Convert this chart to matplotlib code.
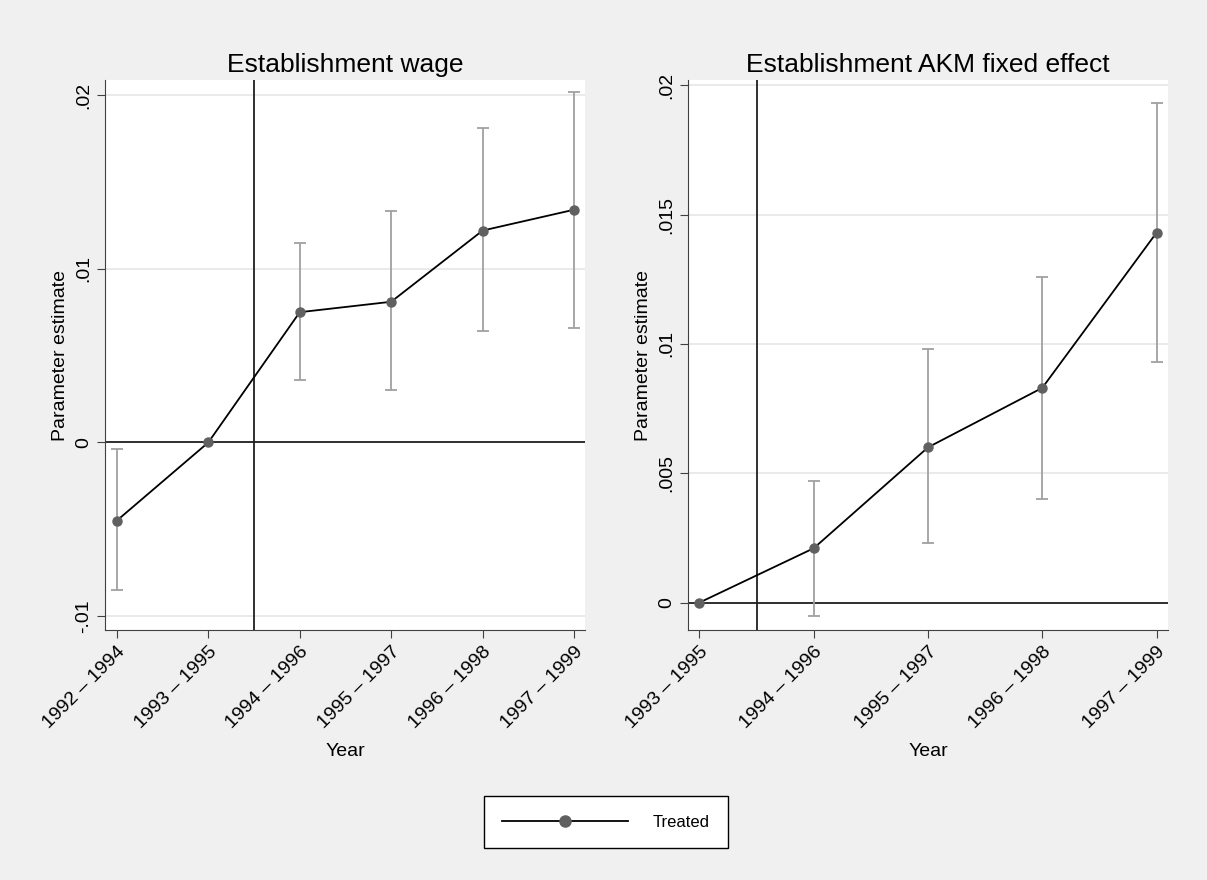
import matplotlib.pyplot as plt
import matplotlib.lines as mlines

plt.rcParams['font.family'] = ['Liberation Sans', 'DejaVu Sans']

# Left panel: establishment wage
wage_labels = ['1992 – 1994', '1993 – 1995', '1994 – 1996', '1995 – 1997', '1996 – 1998', '1997 – 1999']
wage_est = [-0.0045, 0.0, 0.0075, 0.0081, 0.0122, 0.0134]
wage_lo = [-0.0085, 0.0, 0.0036, 0.0030, 0.0064, 0.0066]
wage_hi = [-0.0004, 0.0, 0.0115, 0.0133, 0.0181, 0.0202]

# Right panel: AKM fixed effect
akm_labels = ['1993 – 1995', '1994 – 1996', '1995 – 1997', '1996 – 1998', '1997 – 1999']
akm_est = [0.0, 0.0021, 0.0060, 0.0083, 0.0143]
akm_lo = [0.0, -0.0005, 0.0023, 0.0040, 0.0093]
akm_hi = [0.0, 0.0047, 0.0098, 0.0126, 0.0193]

BG = '#f0f0f0'
fig = plt.figure(figsize=(12.07, 8.80), dpi=100, facecolor=BG)
ax1 = fig.add_axes([105/1207, 1-630/880, 480/1207, 550/880])
ax2 = fig.add_axes([688/1207, 1-630/880, 480/1207, 550/880])


def panel(ax, labels, est, lo, hi, vline, title, yticks, yticklabels, ylim, xlim):
    x = list(range(len(labels)))
    for xi, l, h in zip(x, lo, hi):
        if h != l:
            ax.errorbar([xi], [(l + h) / 2], yerr=[[(h - l) / 2]], fmt='none',
                        ecolor='#a0a0a0', elinewidth=1.3, capsize=4, capthick=1.3, zorder=2)
    ax.plot(x, est, color='black', lw=1.3, marker='o', ms=6.5,
            mfc='#606060', mec='#606060', zorder=3)
    ax.axhline(0, color='#202020', lw=1.3, zorder=1)
    ax.axvline(vline, color='#202020', lw=1.3, zorder=1)
    ax.set_yticks(yticks)
    ax.set_yticklabels(yticklabels, rotation=90, va='center', fontsize=14)
    ax.yaxis.grid(True, color='#e6e6e6', lw=1.2)
    ax.set_axisbelow(True)
    ax.set_xticks(x)
    ax.set_xticklabels(labels, rotation=45, ha='right', rotation_mode='anchor', fontsize=14)
    ax.set_ylim(ylim)
    ax.set_xlim(xlim)
    ax.spines['top'].set_visible(False)
    ax.spines['right'].set_visible(False)
    for s in ('left', 'bottom'):
        ax.spines[s].set_color('#404040')
    ax.tick_params(length=6, color='#404040')
    ax.set_title(title, fontsize=19, pad=6)
    ax.set_xlabel('Year', fontsize=14, labelpad=8)
    ax.set_ylabel('Parameter estimate', fontsize=14)


panel(ax1, wage_labels, wage_est, wage_lo, wage_hi, 1.5, 'Establishment wage',
      [-0.01, 0, 0.01, 0.02], ['-.01', '0', '.01', '.02'], (-0.0108, 0.02087), (-0.13, 5.12))
panel(ax2, akm_labels, akm_est, akm_lo, akm_hi, 0.5, 'Establishment AKM fixed effect',
      [0, 0.005, 0.01, 0.015, 0.02], ['0', '.005', '.01', '.015', '.02'], (-0.00106, 0.0202), (-0.1, 4.1))

handle = mlines.Line2D([], [], color='black', lw=1.3, marker='o', ms=8,
                       mfc='#606060', mec='#606060')
leg = fig.legend([handle], ['Treated'], loc='center', bbox_to_anchor=(606/1207, 1-822/880),
                 frameon=True, fancybox=False, edgecolor='black', facecolor='white', framealpha=1,
                 handlelength=7.5, fontsize=12, borderpad=1.1, handletextpad=1.5,
                 borderaxespad=0)
leg.get_frame().set_linewidth(1.0)

fig.savefig('out.png', dpi=100, facecolor=BG)
